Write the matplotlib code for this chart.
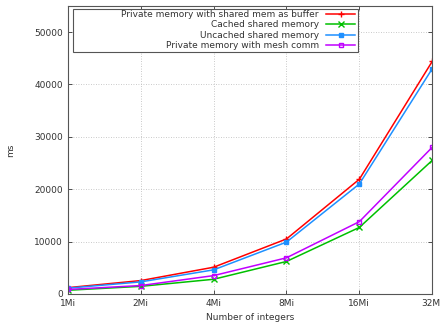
import numpy as np
import matplotlib.pyplot as plt
from matplotlib.patches import Rectangle

# problem sizes (number of integers)
sizes = ['1Mi', '2Mi', '4Mi', '8Mi', '16Mi', '32Mi']

# timings in ms
private_shared_buf = [1200, 2550, 5100, 10500, 21900, 44400]
cached_shared = [700, 1450, 2800, 6200, 12700, 25500]
uncached_shared = [1100, 2300, 4600, 9900, 21000, 43000]
private_mesh = [850, 1600, 3500, 6900, 13800, 28000]

x = np.arange(len(sizes))

fig = plt.figure(figsize=(4.41, 3.31), dpi=100)
ax = fig.add_axes([0.154, 0.112, 0.826, 0.870])

ax.plot(x, private_shared_buf, '-', color='#ff0000', marker='+', ms=5, mew=1,
        lw=1.1, label='Private memory with shared mem as buffer')
ax.plot(x, cached_shared, '-', color='#00c000', marker='x', ms=4, mew=1,
        lw=1.1, label='Cached shared memory')
ax.plot(x, uncached_shared, '-', color='#1e90ff', marker='s', ms=3.5,
        lw=1.1, label='Uncached shared memory')
ax.plot(x, private_mesh, '-', color='#c000ff', marker='s', ms=3.5, mfc='none',
        mew=1, lw=1.1, label='Private memory with mesh comm')

ax.set_xlim(0, len(sizes) - 1)
ax.set_ylim(0, 55000)
ax.set_xticks(x)
ax.set_xticklabels(sizes)
ax.set_yticks(np.arange(0, 55000, 10000))

ax.grid(True, linestyle=(0, (1, 2)), color='#b8b8b8', lw=0.6)
ax.tick_params(direction='in', top=True, right=True, labelsize=6.5,
               colors='#333333', length=3, width=0.6)
for s in ax.spines.values():
    s.set_color('#555555')
    s.set_linewidth(0.8)

ax.set_xlabel('Number of integers', fontsize=6.5, color='#333333')
ax.set_ylabel('ms', fontsize=6.5, color='#333333', labelpad=14)

# gnuplot-style key: fixed box, text right-aligned before the sample
box = Rectangle((0.0137, 0.840), 0.783, 0.150, transform=ax.transAxes,
                fill=True, facecolor='white', edgecolor='#555555', lw=0.8,
                zorder=4)
ax.add_patch(box)
leg = ax.legend(loc='upper right', bbox_to_anchor=(0.793, 0.993), fontsize=6.5,
                markerfirst=False, handlelength=3.2, frameon=False,
                labelspacing=0.17, borderpad=0.2, handletextpad=0.8,
                borderaxespad=0)
leg.set_zorder(5)
for t in leg.get_texts():
    t.set_color('#333333')

fig.savefig('out.png', dpi=100)
